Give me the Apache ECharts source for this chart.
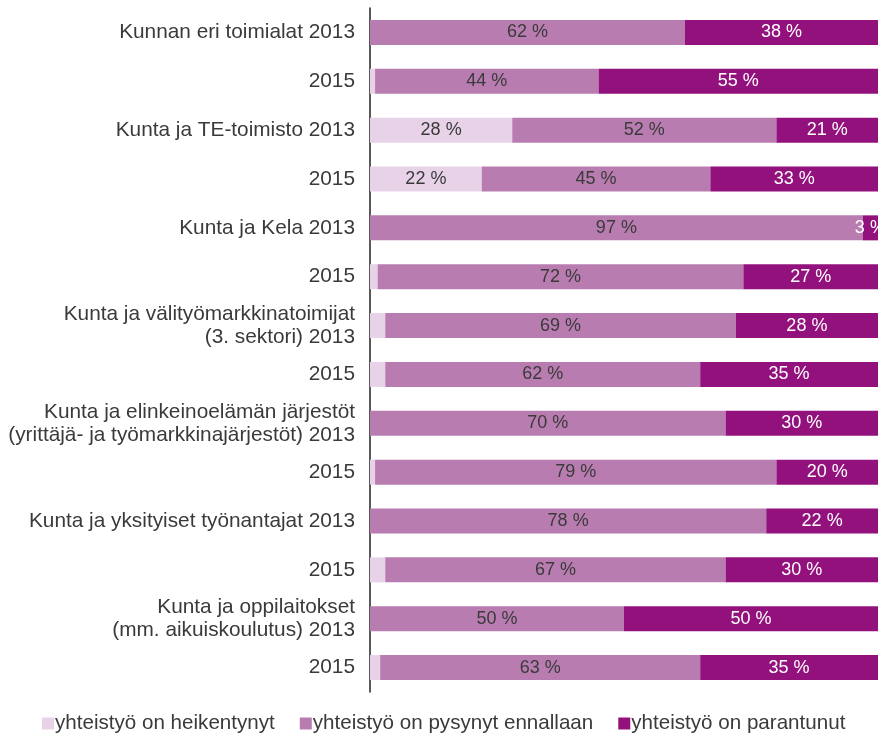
<!DOCTYPE html>
<html>
<head>
<meta charset="utf-8">
<script src="https://cdn.jsdelivr.net/npm/echarts@6/dist/echarts.min.js"></script>
<style>
  html, body { margin: 0; padding: 0; background: #fff; }
  #chart { width: 879px; height: 736px; }
</style>
</head>
<body>
<div id="chart"></div>
<script>
// Rows, top to bottom
const categories = [
  'Kunnan eri toimialat 2013',
  '2015',
  'Kunta ja TE-toimisto 2013',
  '2015',
  'Kunta ja Kela 2013',
  '2015',
  'Kunta ja välityömarkkinatoimijat\n(3. sektori) 2013',
  '2015',
  'Kunta ja elinkeinoelämän järjestöt\n(yrittäjä- ja työmarkkinajärjestöt) 2013',
  '2015',
  'Kunta ja yksityiset työnantajat 2013',
  '2015',
  'Kunta ja oppilaitokset\n(mm. aikuiskoulutus) 2013',
  '2015'
];

const seriesNames = [
  'yhteistyö on heikentynyt',
  'yhteistyö on pysynyt ennallaan',
  'yhteistyö on parantunut'
];

// Shares in percent, same order as categories
const weakened = [0, 1, 28, 22, 0, 1.5, 3, 3, 0, 1, 0, 3, 0, 2];
const unchanged = [62, 44, 52, 45, 97, 72, 69, 62, 70, 79, 78, 67, 50, 63];
const improved = [38, 55, 21, 33, 3, 27, 28, 35, 30, 20, 22, 30, 50, 35];

const colors = ['#e7d2e7', '#b87cb0', '#93117d'];
const labelColors = ['#3a3a3a', '#3a3a3a', '#ffffff'];
const FONT = '"Liberation Sans", Arial, sans-serif';

const chart = echarts.init(document.getElementById('chart'), null, { renderer: 'canvas' });

function makeSeries(idx, values) {
  return {
    name: seriesNames[idx],
    type: 'bar',
    stack: 'total',
    barWidth: 25,
    data: values,
    itemStyle: { color: colors[idx] },
    emphasis: { disabled: true },
    label: {
      show: true,
      position: 'inside',
      color: labelColors[idx],
      fontFamily: FONT,
      fontSize: 18,
      formatter: function (p) {
        // small unlabelled slivers
        if (idx === 0 && p.value < 10) return '';
        return Math.round(p.value) + ' %';
      }
    }
  };
}

chart.setOption({
  animation: false,
  backgroundColor: '#ffffff',
  grid: { left: 370, right: 1, top: 8, bottom: 44, containLabel: false },
  legend: {
    top: 708,
    left: 37,
    itemWidth: 12,
    itemHeight: 12,
    itemGap: 25,
    icon: 'rect',
    textStyle: { color: '#3a3a3a', fontFamily: FONT, fontSize: 20.6, padding: [0, 0, 0, -4] },
    data: seriesNames
  },
  xAxis: {
    type: 'value',
    min: 0,
    max: 100,
    show: false
  },
  yAxis: {
    type: 'category',
    inverse: true,
    data: categories,
    axisLine: { show: true, lineStyle: { color: '#222222', width: 1.5 } },
    axisTick: { show: false },
    axisLabel: {
      color: '#3a3a3a',
      fontFamily: FONT,
      fontSize: 20.8,
      lineHeight: 23,
      margin: 15,
      align: 'right'
    }
  },
  series: [
    makeSeries(0, weakened),
    makeSeries(1, unchanged),
    makeSeries(2, improved)
  ]
});
</script>
</body>
</html>
